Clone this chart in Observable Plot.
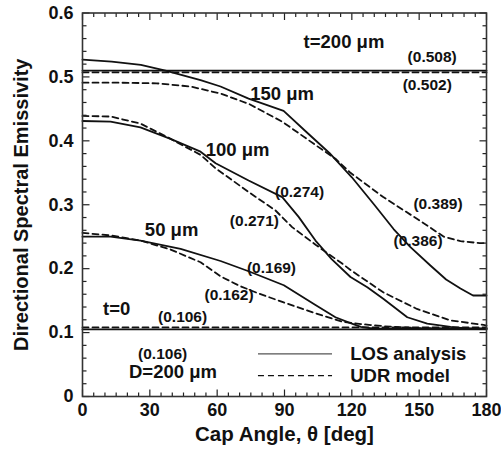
<!DOCTYPE html>
<html>
<head>
<meta charset="utf-8">
<script src="https://cdn.jsdelivr.net/npm/d3@7"></script>
<script src="https://cdn.jsdelivr.net/npm/@observablehq/plot@0.6"></script>
<style>
  html, body { margin: 0; padding: 0; background: #fff; }
  #chart { position: relative; width: 501px; height: 458px; }
  svg { font-family: "Liberation Sans", Arial, Helvetica, sans-serif; }
</style>
</head>
<body>
<div id="chart"></div>
<script>
// ---- data (cap angle in deg, emissivity) ----
const los200X = [0, 180];
const los200Y = [0.510, 0.510];
const udr200X = [0, 180];
const udr200Y = [0.507, 0.507];
const los150X = [0, 13, 26, 37, 52.6, 61.5, 74, 89.6, 100, 110, 120, 130, 138.6, 146, 155, 162, 168.4, 174, 180];
const los150Y = [0.527, 0.524, 0.519, 0.510, 0.495, 0.485, 0.466, 0.447, 0.413, 0.381, 0.343, 0.300, 0.262, 0.234, 0.205, 0.183, 0.169, 0.158, 0.158];
const udr150X = [0, 15, 33, 48, 61.5, 74, 89, 104, 112.7, 119.4, 134, 149, 161, 168.4, 177, 180];
const udr150Y = [0.491, 0.491, 0.490, 0.485, 0.474, 0.458, 0.430, 0.393, 0.372, 0.350, 0.312, 0.278, 0.250, 0.243, 0.240, 0.240];
const los100X = [0, 12.5, 25.8, 39.2, 52.6, 59.3, 74, 89, 96.3, 103.8, 111, 119.4, 126.9, 134, 144.7, 153.6, 164, 172, 180];
const los100Y = [0.431, 0.430, 0.421, 0.403, 0.383, 0.365, 0.338, 0.312, 0.281, 0.244, 0.215, 0.187, 0.171, 0.153, 0.124, 0.114, 0.109, 0.106, 0.106];
const udr100X = [0, 12.5, 25.8, 37.7, 52.6, 59.3, 74, 86, 93.4, 104, 115.7, 119.4, 134, 149, 164, 178.7, 180];
const udr100Y = [0.439, 0.438, 0.427, 0.406, 0.378, 0.357, 0.320, 0.291, 0.265, 0.237, 0.208, 0.198, 0.163, 0.137, 0.119, 0.112, 0.111];
const los50X = [0, 12.5, 25.8, 43.7, 61.5, 74, 89.7, 103.8, 112.7, 118.5, 124, 130, 180];
const los50Y = [0.250, 0.250, 0.244, 0.231, 0.212, 0.196, 0.174, 0.143, 0.124, 0.116, 0.109, 0.106, 0.106];
const udr50X = [0, 12.5, 25.8, 39.2, 52.6, 61.5, 70, 78.6, 89, 104, 115.7, 125, 134, 150, 180];
const udr50Y = [0.256, 0.252, 0.244, 0.230, 0.210, 0.188, 0.173, 0.161, 0.148, 0.130, 0.117, 0.113, 0.110, 0.107, 0.106];
const los0X = [0, 180];
const los0Y = [0.105, 0.105];
const udr0X = [0, 180];
const udr0Y = [0.108, 0.108];

// annotations (data coordinates)
const annoText = ["t=200 μm", "150 μm", "100 μm", "50 μm", "t=0", "D=200 μm"];
const annoX = [116.5, 88.9, 69.1, 39.7, 15.2, 40.3];
const annoY = [0.555, 0.473, 0.385, 0.260, 0.136, 0.038];
const valText = ["(0.508)", "(0.502)", "(0.274)", "(0.271)", "(0.389)", "(0.386)", "(0.169)", "(0.162)", "(0.106)", "(0.106)"];
const valX = [155.8, 153.6, 96.7, 76.6, 158.4, 149.5, 84.2, 65.3, 44.6, 35.7];
const valY = [0.531, 0.487, 0.320, 0.274, 0.301, 0.244, 0.2005, 0.158, 0.125, 0.067];

// ticks
const xMajor = [0, 30, 60, 90, 120, 150, 180];
const xMinor = d3.range(0, 181, 5);
const yMajor = [0, 0.1, 0.2, 0.3, 0.4, 0.5, 0.6];
const yMinor = d3.range(0, 31).map(i => +(i * 0.02).toFixed(2));

const legendLabels = ["LOS analysis", "UDR model"];

// ---- build ----
const zip = (xs, ys) => xs.map((x, i) => ({x, y: ys[i]}));
const solid = [zip(los200X, los200Y), zip(los150X, los150Y), zip(los100X, los100Y), zip(los50X, los50Y), zip(los0X, los0Y)];
const dashed = [zip(udr200X, udr200Y), zip(udr150X, udr150Y), zip(udr100X, udr100Y), zip(udr50X, udr50Y), zip(udr0X, udr0Y)];
const annos = annoText.map((t, i) => ({t, x: annoX[i], y: annoY[i]}));
const vals = valText.map((t, i) => ({t, x: valX[i], y: valY[i]}));

const FONT = '"Liberation Sans", Arial, Helvetica, sans-serif';
const ink = "#111";

const W = 501, H = 458, ML = 82, MR = 15, MT = 12.5, MB = 62;
const XD = [0, 180], YD = [0, 0.6];
// inward tick lengths (px) converted to data units
const MAJ = 7, MIN = 4;
const xPerPx = (XD[1] - XD[0]) / (W - ML - MR);
const yPerPx = (YD[1] - YD[0]) / (H - MT - MB);
const isMajX = v => xMajor.includes(v);
const isMajY = v => yMajor.some(m => Math.abs(m - v) < 1e-9);

const tickRows = [];
xMinor.forEach(v => {
  const L = (isMajX(v) ? MAJ : MIN) * yPerPx;
  tickRows.push({x1: v, x2: v, y1: YD[0], y2: YD[0] + L});
  tickRows.push({x1: v, x2: v, y1: YD[1], y2: YD[1] - L});
});
yMinor.forEach(v => {
  const L = (isMajY(v) ? MAJ : MIN) * xPerPx;
  tickRows.push({x1: XD[0], x2: XD[0] + L, y1: v, y2: v});
  tickRows.push({x1: XD[1], x2: XD[1] - L, y1: v, y2: v});
});

const marks = [];
solid.forEach(s => marks.push(Plot.line(s, {x: "x", y: "y", stroke: ink, strokeWidth: 1.8})));
dashed.forEach(s => marks.push(Plot.line(s, {x: "x", y: "y", stroke: ink, strokeWidth: 1.8, strokeDasharray: "6,4"})));

marks.push(
  Plot.link(tickRows, {x1: "x1", y1: "y1", x2: "x2", y2: "y2", stroke: "#222", strokeWidth: 1.2}),
  Plot.text(annos, {x: "x", y: "y", text: "t", fontSize: 18.5, fontWeight: "bold", fill: ink}),
  Plot.text(vals, {x: "x", y: "y", text: "t", fontSize: 15.5, fontWeight: "bold", fill: ink}),
  Plot.axisX(xMajor, {anchor: "bottom", tickSize: 0, tickPadding: 7, fontSize: 18, fontWeight: "bold", label: null, fill: ink, tickFormat: d => String(d)}),
  Plot.axisY(yMajor, {anchor: "left", tickSize: 0, tickPadding: 9, fontSize: 18, fontWeight: "bold", label: null, fill: ink, tickFormat: d => d === 0 ? "0" : d.toFixed(1)}),
  Plot.text(["Cap Angle, θ [deg]"], {frameAnchor: "bottom", dy: 44, fontSize: 20.5, fontWeight: "bold", fill: ink}),
  Plot.text(["Directional Spectral Emissivity"], {frameAnchor: "left", dx: -61, rotate: -90, textAnchor: "middle", fontSize: 20, fontWeight: "bold", fill: ink}),
  Plot.frame({stroke: "#333", strokeWidth: 1.6})
);

const chart = Plot.plot({
  width: W, height: H,
  marginLeft: ML, marginRight: MR, marginTop: MT, marginBottom: MB,
  style: {fontFamily: FONT, background: "#fff", overflow: "visible"},
  x: {domain: XD},
  y: {domain: YD},
  marks
});

// legend inside the plot area
const sx = chart.scale("x"), sy = chart.scale("y");
const svg = d3.select(chart);
const lg = svg.append("g").attr("font-family", FONT).attr("font-weight", "bold").attr("font-size", 18.5).attr("fill", ink).attr("text-anchor", "start");
const legendStyles = [null, "6,4"];
const legendYs = [0.066, 0.032];
legendLabels.forEach((lab, i) => {
  const yy = sy.apply(legendYs[i]);
  lg.append("line")
    .attr("x1", sx.apply(78.4)).attr("x2", sx.apply(111.4))
    .attr("y1", yy).attr("y2", yy)
    .attr("stroke", i === 0 ? "#555" : ink)
    .attr("stroke-width", 1.3)
    .attr("stroke-dasharray", legendStyles[i]);
  lg.append("text")
    .attr("x", sx.apply(119.5)).attr("y", yy).attr("dy", "0.35em")
    .text(lab);
});

document.getElementById("chart").appendChild(chart);
</script>
</body>
</html>
